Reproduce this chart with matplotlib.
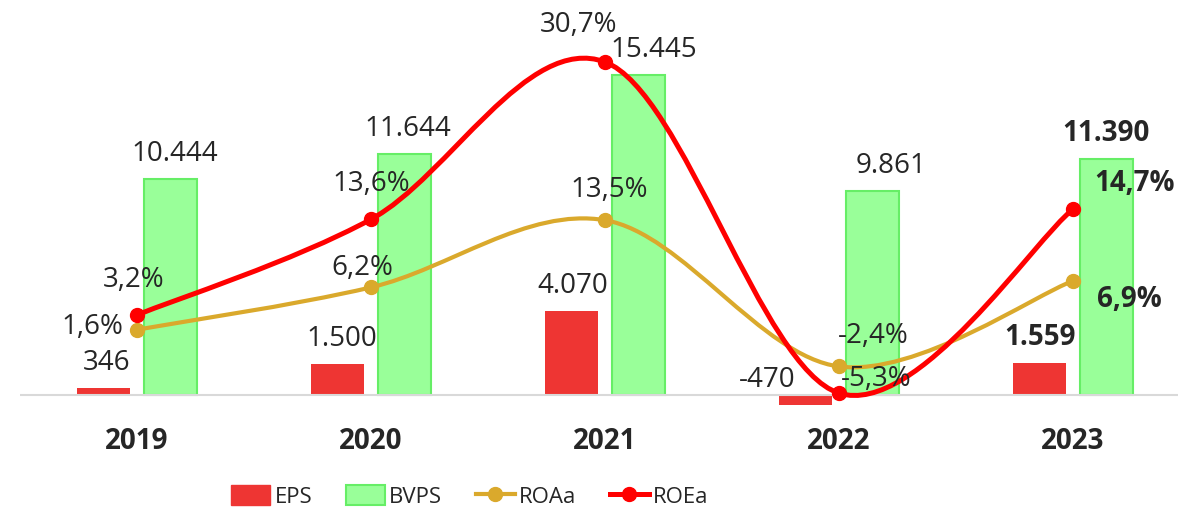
import matplotlib.pyplot as plt
import numpy as np
from matplotlib.lines import Line2D
from matplotlib.patches import Patch, PathPatch
from matplotlib.path import Path

plt.rcParams["font.family"] = ["Open Sans", "DejaVu Sans"]
plt.rcParams["font.size"] = 20

years = ["2019", "2020", "2021", "2022", "2023"]
eps = [346, 1500, 4070, -470, 1559]
bvps = [10444, 11644, 15445, 9861, 11390]
roaa = [1.6, 6.2, 13.5, -2.4, 6.9]
roea = [3.2, 13.6, 30.7, -5.3, 14.7]

TXT = "#262626"
RED_BAR = "#EE3533"
GREEN = "#99FF99"
GREEN_EDGE = "#66EE66"
GOLD = "#DAA92C"
RED = "#FF0000"


def fmt_num(v):
    return f"{v:,}".replace(",", ".")


def fmt_pct(v):
    return f"{v:.1f}%".replace(".", ",")


def smooth_path(xs, ys):
    # catmull-rom style bezier, like excel's "smoothed line"
    pts = np.column_stack([xs, ys]).astype(float)
    ext = np.vstack([pts[0], pts, pts[-1]])
    verts = [pts[0]]
    codes = [Path.MOVETO]
    for i in range(len(pts) - 1):
        p0, p1, p2, p3 = ext[i], ext[i + 1], ext[i + 2], ext[i + 3]
        c1 = p1 + (p2 - p0) / 6
        c2 = p2 - (p3 - p1) / 6
        verts += [c1, c2, p2]
        codes += [Path.CURVE4] * 3
    return Path(verts, codes)


fig = plt.figure(figsize=(11.78, 5.10), dpi=100)
ax = fig.add_axes([20 / 1178, 90 / 510, 1170 / 1178, 410 / 510])
ax2 = ax.twinx()

x = np.arange(len(years))
w = 0.227
off = 0.143

ax.bar(x - off, eps, w, color=RED_BAR, zorder=2)
ax.bar(x + off, bvps, w, color=GREEN, edgecolor=GREEN_EDGE, linewidth=1.5, zorder=2)
ax.axhline(0, color="#D9D9D9", lw=1.5, zorder=3)

ax.set_xlim(-0.5, 4.5)
ax.set_ylim(-1158, 18629)
ax2.set_ylim(-8.11, 36.46)

for a in (ax, ax2):
    for s in a.spines.values():
        s.set_visible(False)
    a.set_yticks([])
ax.set_xticks(x)
ax.set_xticklabels(years, fontweight="bold", color=TXT, fontsize=20)
ax.tick_params(axis="x", length=0, pad=5)

# bar labels
eps_dx = [3, 4, 1, -38, 1]
bvps_dx = [4, 3, 15, 19, 0]
for i in range(len(years)):
    bold = "bold" if i == len(years) - 1 else "normal"
    top = max(eps[i], 0)
    dy = 12 if eps[i] >= 0 else 2
    ax.annotate(fmt_num(eps[i]), (x[i] - off, top), xytext=(eps_dx[i], dy),
                textcoords="offset pixels", ha="center", va="bottom",
                color=TXT, fontweight=bold, zorder=6)
    ax.annotate(fmt_num(bvps[i]), (x[i] + off, bvps[i]), xytext=(bvps_dx[i], 12),
                textcoords="offset pixels", ha="center", va="bottom",
                color=TXT, fontweight=bold, zorder=6)

# smoothed lines
for vals, col, lw in ((roaa, GOLD, 3.0), (roea, RED, 3.6)):
    ax2.add_patch(PathPatch(smooth_path(x, vals), fill=False, edgecolor=col,
                            lw=lw, capstyle="round", zorder=4))
    ax2.plot(x, vals, "o", color=col, ms=10, zorder=5)

roea_off = [(-3, 36), (0, 36), (-26, 38), (37, 15), (62, 27)]
roaa_off = [(-45, 4), (-9, 20), (4, 31), (34, 31), (56, -18)]
for vals, offs in ((roea, roea_off), (roaa, roaa_off)):
    for i, v in enumerate(vals):
        bold = "bold" if i == len(years) - 1 else "normal"
        ax2.annotate(fmt_pct(v), (x[i], v), xytext=offs[i],
                     textcoords="offset pixels", ha="center", va="center",
                     color=TXT, fontweight=bold, zorder=6)

handles = [
    Patch(facecolor=RED_BAR, edgecolor=RED_BAR),
    Patch(facecolor=GREEN, edgecolor=GREEN_EDGE, linewidth=1.5),
    Line2D([], [], color=GOLD, lw=3.0, marker="o", ms=10),
    Line2D([], [], color=RED, lw=3.6, marker="o", ms=10),
]
fig.legend(handles, ["EPS", "BVPS", "ROAa", "ROEa"], loc="center",
           bbox_to_anchor=(470 / 1178, 1 - 497 / 510), ncol=4, frameon=False,
           fontsize=16, handlelength=1.75, handleheight=1.0, columnspacing=1.5,
           handletextpad=0.2, labelcolor=TXT)

fig.savefig("out.png", dpi=100)
